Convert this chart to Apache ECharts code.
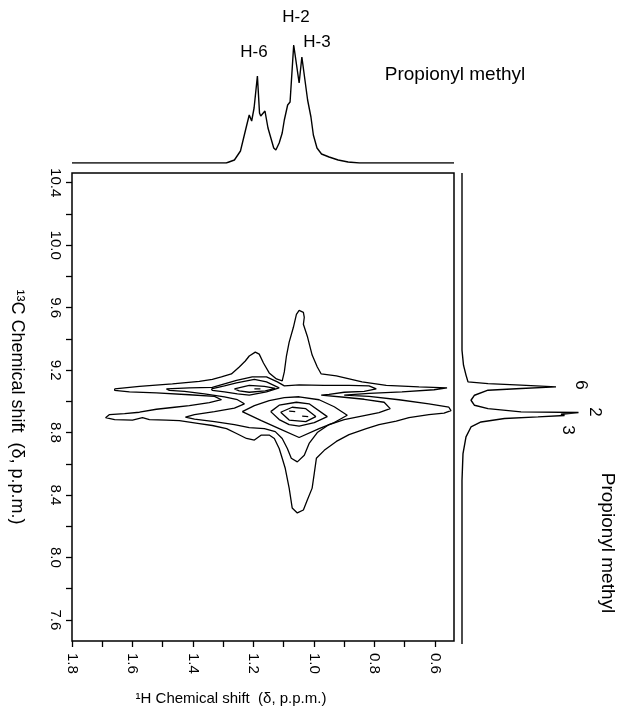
<!DOCTYPE html>
<html>
<head>
<meta charset="utf-8">
<script src="https://cdn.jsdelivr.net/npm/echarts@6/dist/echarts.min.js"></script>
<style>
  html, body { margin: 0; padding: 0; background: #fff; }
  #chart { width: 617px; height: 711px; }
</style>
</head>
<body>
<div id="chart"></div>
<script>
// axis ticks / labels (p.p.m.)
const xTickValues = [1.8, 1.7, 1.6, 1.5, 1.4, 1.3, 1.2, 1.1, 1.0, 0.9, 0.8, 0.7, 0.6];
const xLabelValues = [1.8, 1.6, 1.4, 1.2, 1.0, 0.8, 0.6];
const yTickValues = [10.4, 10.2, 10.0, 9.8, 9.6, 9.4, 9.2, 9.0, 8.8, 8.6, 8.4, 8.2, 8.0, 7.8, 7.6];
const yLabelValues = [10.4, 10.0, 9.6, 9.2, 8.8, 8.4, 8.0, 7.6];

// 1H projection (top): shift, intensity
const topShift = [1.800, 1.290, 1.263, 1.243, 1.223, 1.214, 1.206, 1.198, 1.187, 1.180, 1.176, 1.162, 1.152, 1.133, 1.126, 1.115, 1.105, 1.098, 1.087, 1.079, 1.067, 1.049, 1.040, 1.021, 1.010, 1.002, 0.990, 0.975, 0.950, 0.920, 0.887, 0.850, 0.537];
const topIntensity = [0, 0, 3, 12, 37, 48, 42, 55, 87, 50, 47, 52, 35, 15, 13, 20, 30, 43, 58, 61, 118, 80, 106, 63, 46, 28, 15, 9, 6, 3, 1, 0, 0];

// 13C projection (right): shift, intensity
const rightShift = [10.462, 9.334, 9.239, 9.176, 9.133, 9.122, 9.112, 9.101, 9.091, 9.080, 9.048, 9.016, 8.984, 8.963, 8.942, 8.938, 8.927, 8.919, 8.910, 8.900, 8.878, 8.846, 8.783, 8.677, 8.507, 7.465];
const rightIntensity = [0, 0, 1.5, 4, 6, 26, 59, 94, 59, 26, 12.5, 9, 12.5, 26, 59, 116.5, 99, 102.5, 76, 42.5, 19, 9, 4, 1, 0, 0];

// contours: [1H shift, 13C shift]
const contourLevel1 = [
  [1.659, 9.080], [1.577, 9.096], [1.468, 9.112], [1.379, 9.128], [1.336, 9.140], [1.306, 9.156], [1.273, 9.175],
  [1.247, 9.220], [1.227, 9.258], [1.214, 9.290], [1.194, 9.315], [1.181, 9.302], [1.167, 9.245], [1.148, 9.182],
  [1.124, 9.143], [1.105, 9.131], [1.098, 9.188], [1.091, 9.290], [1.082, 9.379], [1.068, 9.474], [1.058, 9.557],
  [1.049, 9.582], [1.035, 9.570], [1.032, 9.538], [1.035, 9.493], [1.022, 9.417], [1.006, 9.296], [0.989, 9.220],
  [0.976, 9.175], [0.926, 9.163], [0.841, 9.124], [0.761, 9.102], [0.653, 9.093], [0.560, 9.086], [0.603, 9.074],
  [0.709, 9.061], [0.818, 9.051], [0.900, 9.039], [0.818, 9.032], [0.719, 9.010], [0.620, 8.984], [0.554, 8.962],
  [0.547, 8.940], [0.570, 8.924], [0.620, 8.915], [0.686, 8.895], [0.728, 8.873], [0.785, 8.851], [0.827, 8.825],
  [0.884, 8.787], [0.926, 8.743], [0.966, 8.686], [0.992, 8.635], [0.999, 8.539], [1.006, 8.444], [1.022, 8.368],
  [1.035, 8.304], [1.055, 8.285], [1.072, 8.317], [1.082, 8.444], [1.095, 8.571], [1.105, 8.635], [1.115, 8.698],
  [1.131, 8.762], [1.148, 8.784], [1.174, 8.784], [1.197, 8.752], [1.223, 8.762], [1.256, 8.794], [1.289, 8.825],
  [1.336, 8.845], [1.379, 8.857], [1.445, 8.876], [1.488, 8.880], [1.544, 8.883], [1.567, 8.895], [1.600, 8.880],
  [1.659, 8.883], [1.689, 8.895], [1.676, 8.915], [1.626, 8.921], [1.577, 8.930], [1.521, 8.949], [1.461, 8.962],
  [1.412, 8.972], [1.346, 8.991], [1.306, 9.010], [1.329, 9.032], [1.412, 9.042], [1.521, 9.054], [1.610, 9.061],
  [1.659, 9.070], [1.659, 9.080]
];
const contourLevel2 = [
  [1.488, 9.080], [1.412, 9.086], [1.336, 9.089], [1.296, 9.112], [1.256, 9.134], [1.204, 9.156], [1.157, 9.156],
  [1.121, 9.124], [1.098, 9.099], [1.049, 9.105], [0.966, 9.102], [0.884, 9.102], [0.818, 9.099], [0.794, 9.080],
  [0.834, 9.064], [0.900, 9.058], [0.950, 9.045], [0.976, 9.039], [0.900, 9.026], [0.834, 9.013], [0.768, 8.994],
  [0.748, 8.953], [0.785, 8.927], [0.834, 8.908], [0.900, 8.883], [0.950, 8.851], [0.989, 8.800], [1.016, 8.730],
  [1.032, 8.654], [1.055, 8.612], [1.075, 8.635], [1.088, 8.698], [1.105, 8.762], [1.128, 8.806], [1.164, 8.825],
  [1.214, 8.832], [1.263, 8.851], [1.329, 8.870], [1.395, 8.886], [1.425, 8.899], [1.395, 8.915], [1.329, 8.934],
  [1.263, 8.956], [1.230, 8.984], [1.253, 9.010], [1.296, 9.029], [1.362, 9.048], [1.428, 9.064], [1.478, 9.070],
  [1.488, 9.080]
];
const contourH6Level3 = [
  [1.339, 9.080], [1.296, 9.099], [1.256, 9.118], [1.197, 9.140], [1.157, 9.124], [1.115, 9.086], [1.157, 9.061],
  [1.214, 9.039], [1.253, 9.048], [1.296, 9.061], [1.336, 9.070], [1.339, 9.080]
];
const contourH6Level4 = [
  [1.263, 9.080], [1.214, 9.102], [1.164, 9.096], [1.128, 9.083], [1.161, 9.067], [1.214, 9.058], [1.247, 9.067],
  [1.263, 9.080]
];
const contourH6Top = [[1.197, 9.080], [1.177, 9.080]];
const contourH23Level3 = [
  [1.237, 8.934], [1.197, 8.972], [1.148, 9.004], [1.098, 9.023], [1.049, 9.029], [0.983, 9.010], [0.933, 8.965],
  [0.890, 8.911], [0.933, 8.864], [0.983, 8.825], [1.049, 8.768], [1.115, 8.825], [1.174, 8.876], [1.237, 8.934]
];
const contourH23Level4 = [
  [1.143, 8.934], [1.115, 8.975], [1.058, 8.994], [1.016, 8.984], [0.956, 8.902], [0.999, 8.864], [1.049, 8.841],
  [1.082, 8.851], [1.115, 8.883], [1.143, 8.934]
];
const contourH23Level5 = [
  [1.110, 8.930], [1.072, 8.962], [1.027, 8.953], [0.994, 8.902], [1.027, 8.870], [1.082, 8.880], [1.110, 8.930]
];
const contourH2Top = [[1.082, 8.937], [1.062, 8.934]];
const contourH3Top = [[1.039, 8.905], [1.019, 8.902]];

const contours = [
  contourLevel1, contourLevel2, contourH6Level3, contourH6Level4, contourH6Top,
  contourH23Level3, contourH23Level4, contourH23Level5, contourH2Top, contourH3Top
];

const FONT = '"Liberation Sans", Arial, sans-serif';
const xMin = 0.537, xMax = 1.8;
const yMin = 7.465, yMax = 10.462;

const chart = echarts.init(document.getElementById('chart'), null, { renderer: 'canvas' });

function zip(a, b) {
  return a.map((v, i) => [v, b[i]]);
}

const contourSeries = contours.map((c) => ({
  type: 'line',
  xAxisIndex: 0,
  yAxisIndex: 0,
  data: c,
  showSymbol: false,
  symbol: 'none',
  lineStyle: { color: '#000', width: 1.3 },
  silent: true,
}));

const option = {
  animation: false,
  backgroundColor: '#fff',
  grid: [
    { left: 72, top: 173, width: 382, height: 471, show: true, borderColor: '#000', borderWidth: 1.5, backgroundColor: 'transparent' },
    { left: 72, top: 13, width: 382, height: 150 },
    { left: 462, top: 173, width: 150, height: 471 },
  ],
  xAxis: [
    {
      gridIndex: 0,
      type: 'value',
      min: xMin,
      max: xMax,
      inverse: true,
      axisLine: { show: false },
      splitLine: { show: false },
      axisTick: { show: true, customValues: xTickValues, length: 6, lineStyle: { color: '#000', width: 1.3 } },
      axisLabel: {
        customValues: xLabelValues,
        rotate: -90,
        margin: 12,
        color: '#000',
        fontSize: 15,
        fontFamily: FONT,
        formatter: (v) => v.toFixed(1),
      },
      name: '¹H Chemical shift  (δ, p.p.m.)',
      nameLocation: 'middle',
      nameGap: 50,
      nameTextStyle: { color: '#000', fontSize: 15, fontFamily: FONT, padding: [0, 64, 0, 0] },
    },
    { gridIndex: 1, type: 'value', min: xMin, max: xMax, inverse: true, show: false },
    { gridIndex: 2, type: 'value', min: 0, max: 150, show: false },
  ],
  yAxis: [
    {
      gridIndex: 0,
      type: 'value',
      min: yMin,
      max: yMax,
      axisLine: { show: false },
      splitLine: { show: false },
      axisTick: { show: true, customValues: yTickValues, length: 6, lineStyle: { color: '#000', width: 1.3 } },
      axisLabel: {
        customValues: yLabelValues,
        rotate: -90,
        margin: 9,
        color: '#000',
        fontSize: 15,
        fontFamily: FONT,
        formatter: (v) => v.toFixed(1),
      },
      name: '¹³C Chemical shift  (δ, p.p.m.)',
      nameLocation: 'middle',
      nameRotate: -90,
      nameGap: 46,
      nameTextStyle: { color: '#000', fontSize: 18, fontFamily: FONT },
    },
    { gridIndex: 1, type: 'value', min: 0, max: 150, show: false },
    { gridIndex: 2, type: 'value', min: yMin, max: yMax, show: false },
  ],
  graphic: [
    { type: 'text', x: 254, y: 52, style: { text: 'H-6', font: '17px ' + FONT, fill: '#000', align: 'center', verticalAlign: 'middle' } },
    { type: 'text', x: 296, y: 17, style: { text: 'H-2', font: '17px ' + FONT, fill: '#000', align: 'center', verticalAlign: 'middle' } },
    { type: 'text', x: 317, y: 42, style: { text: 'H-3', font: '17px ' + FONT, fill: '#000', align: 'center', verticalAlign: 'middle' } },
    { type: 'text', x: 455, y: 75, style: { text: 'Propionyl methyl', font: '19px ' + FONT, fill: '#000', align: 'center', verticalAlign: 'middle' } },
    { type: 'text', x: 607, y: 543, rotation: -Math.PI / 2, style: { text: 'Propionyl methyl', font: '19px ' + FONT, fill: '#000', align: 'center', verticalAlign: 'middle' } },
    { type: 'text', x: 581, y: 385, rotation: -Math.PI / 2, style: { text: '6', font: '17px ' + FONT, fill: '#000', align: 'center', verticalAlign: 'middle' } },
    { type: 'text', x: 595, y: 412, rotation: -Math.PI / 2, style: { text: '2', font: '17px ' + FONT, fill: '#000', align: 'center', verticalAlign: 'middle' } },
    { type: 'text', x: 568, y: 430, rotation: -Math.PI / 2, style: { text: '3', font: '17px ' + FONT, fill: '#000', align: 'center', verticalAlign: 'middle' } },
  ],
  series: [
    ...contourSeries,
    {
      type: 'line',
      xAxisIndex: 1,
      yAxisIndex: 1,
      data: zip(topShift, topIntensity),
      showSymbol: false,
      symbol: 'none',
      lineStyle: { color: '#000', width: 1.4 },
      silent: true,
    },
    {
      type: 'line',
      xAxisIndex: 2,
      yAxisIndex: 2,
      data: zip(rightIntensity, rightShift),
      showSymbol: false,
      symbol: 'none',
      lineStyle: { color: '#000', width: 1.4 },
      silent: true,
    },
  ],
};

chart.setOption(option);
</script>
</body>
</html>
